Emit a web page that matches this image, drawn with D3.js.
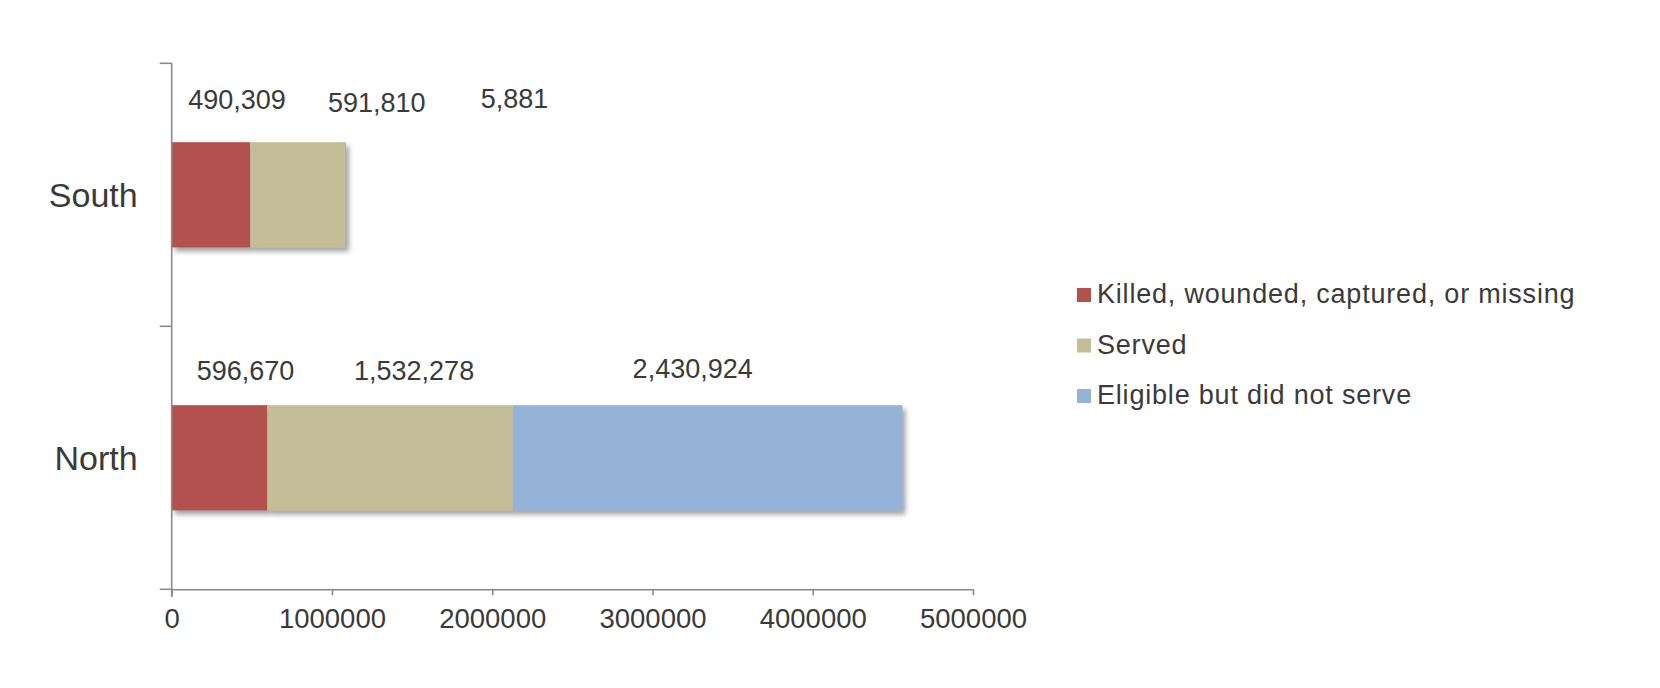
<!DOCTYPE html>
<html>
<head>
<meta charset="utf-8">
<script src="https://cdn.jsdelivr.net/npm/d3@7"></script>
<style>
  html, body { margin: 0; padding: 0; background: #ffffff; }
  svg { display: block; font-family: "Liberation Sans", Arial, sans-serif; }
</style>
</head>
<body>
<svg id="chart" width="1660" height="688"></svg>
<script>
// ---- data ----
const categories = ["South", "North"];
const seriesKeys = ["killed", "served", "eligible"];
const seriesNames = ["Killed, wounded, captured, or missing", "Served", "Eligible but did not serve"];
const killed = [490309, 596670];
const served = [591810, 1532278];
const eligible = [5881, 2430924];
const xTicks = [0, 1000000, 2000000, 3000000, 4000000, 5000000];

// ---- layout / style ----
const colors = ["#B3514F", "#C4BD97", "#95B3D7"];
const axisColor = "#8a8a8a";
const textColor = "#3a3a3a";
// manual nudges for the data labels (pixels), per category per series
const labelShift = [[26, 79, 169], [26, 24, -15]];
const labelRise = [[-33, -30, -34], [-25, -25, -27]];

const svg = d3.select("#chart");
const defs = svg.append("defs");
const f = defs.append("filter").attr("id", "shadow")
  .attr("x", "-10%").attr("y", "-10%").attr("width", "130%").attr("height", "140%");
f.append("feDropShadow").attr("dx", 3).attr("dy", 4).attr("stdDeviation", 2.5)
  .attr("flood-color", "#555").attr("flood-opacity", 0.55);

const x = d3.scaleLinear().domain([0, 5000000]).range([171.7, 973]);
const y = d3.scaleBand().domain(categories).range([63.3, 589.3])
  .paddingInner(0.6).paddingOuter(0.3);

const rows = categories.map((c, i) => ({ cat: c, killed: killed[i], served: served[i], eligible: eligible[i] }));
const stack = d3.stack().keys(seriesKeys)(rows);

// bars
categories.forEach((c, ci) => {
  const g = svg.append("g").attr("filter", "url(#shadow)");
  stack.forEach((layer, si) => {
    const d = layer[ci];
    g.append("rect")
      .attr("x", x(d[0]))
      .attr("y", y(c))
      .attr("width", Math.max(0, x(d[1]) - x(d[0])))
      .attr("height", y.bandwidth())
      .attr("fill", colors[si]);
  });
});

// data labels
const fmt = d3.format(",");
categories.forEach((c, ci) => {
  stack.forEach((layer, si) => {
    const d = layer[ci];
    svg.append("text")
      .attr("x", (x(d[0]) + x(d[1])) / 2 + labelShift[ci][si])
      .attr("y", y(c) + labelRise[ci][si])
      .attr("text-anchor", "middle")
      .attr("font-size", 27)
      .attr("fill", textColor)
      .text(fmt(d.data[seriesKeys[si]]));
  });
});

// y axis (ticks at category boundaries)
const yTop = y.range()[0], yBot = y.range()[1];
svg.append("line").attr("x1", x(0)).attr("x2", x(0)).attr("y1", yTop).attr("y2", yBot + 8)
  .attr("stroke", axisColor).attr("stroke-width", 1.6);
const bounds = d3.range(categories.length + 1).map(i => yTop + i * y.step());
svg.selectAll(".ytick").data(bounds).enter().append("line")
  .attr("x1", x(0) - 12).attr("x2", x(0)).attr("y1", d => d).attr("y2", d => d)
  .attr("stroke", axisColor).attr("stroke-width", 1.6);

// category labels
svg.selectAll(".cat").data(categories).enter().append("text")
  .attr("x", x(0) - 34)
  .attr("y", d => y(d) + y.bandwidth() / 2)
  .attr("dy", "0.35em")
  .attr("text-anchor", "end")
  .attr("font-size", 34)
  .attr("fill", textColor)
  .text(d => d);

// x axis
const xAxis = d3.axisBottom(x).tickValues(xTicks).tickFormat(d3.format("d"))
  .tickSize(6).tickSizeOuter(0).tickPadding(13);
const xg = svg.append("g").attr("transform", `translate(0,${yBot})`).call(xAxis);
xg.select(".domain").attr("stroke", axisColor).attr("stroke-width", 1.6);
xg.selectAll(".tick line").attr("stroke", axisColor).attr("stroke-width", 1.6);
xg.selectAll(".tick text").attr("font-size", 27.5).attr("fill", textColor)
  .attr("font-family", "Liberation Sans, Arial, sans-serif");

// legend
const leg = svg.append("g").attr("transform", "translate(1077,288)");
seriesNames.forEach((n, i) => {
  const r = leg.append("g").attr("transform", `translate(0,${i * 50.5})`);
  r.append("rect").attr("x", 0).attr("y", 0).attr("width", 14).attr("height", 14).attr("fill", colors[i]);
  r.append("text").attr("x", 20).attr("y", 15).attr("font-size", 27)
    .attr("letter-spacing", 0.8).attr("fill", textColor).text(n);
});
</script>
</body>
</html>
